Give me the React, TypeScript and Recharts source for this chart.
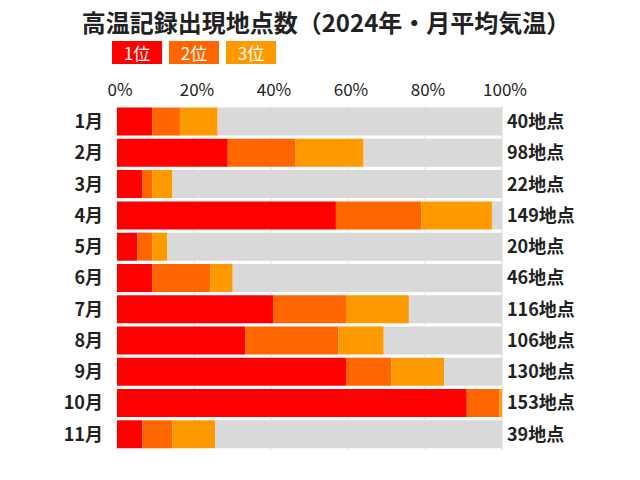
import React from "react";
import {
  BarChart,
  Bar,
  XAxis,
  YAxis,
  CartesianGrid,
} from "recharts";

// 観測地点の総数（10月の153地点でほぼ100%）
const totalStations = 153;

const months = ["1月", "2月", "3月", "4月", "5月", "6月", "7月", "8月", "9月", "10月", "11月"];
const rank1 = [14, 44, 10, 87, 8, 14, 62, 51, 91, 139, 10];
const rank2 = [11, 27, 4, 34, 6, 23, 29, 37, 18, 13, 12];
const rank3 = [15, 27, 8, 28, 6, 9, 25, 18, 21, 1, 17];
const percentTicks = [0, 20, 40, 60, 80, 100];

const legendItems = [
  { label: "1位", color: "#ff0000" },
  { label: "2位", color: "#ff6600" },
  { label: "3位", color: "#ff9900" },
];

const font = '"Noto Sans CJK JP", "Noto Sans", sans-serif';

const chartData = months.map((m, i) => {
  const total = rank1[i] + rank2[i] + rank3[i];
  const pct = (v: number) => (v / totalStations) * 100;
  return {
    month: m,
    r1: pct(rank1[i]),
    r2: pct(rank2[i]),
    r3: pct(rank3[i]),
    rest: Math.max(0, 100 - pct(total)),
    total,
  };
});

const App = () => {
  return (
    <div
      style={{
        position: "absolute",
        left: 0,
        top: 0,
        width: 640,
        height: 480,
        background: "#fff",
        fontFamily: font,
      }}
    >
      <div
        style={{
          position: "absolute",
          left: 0,
          top: 9,
          width: 652,
          textAlign: "center",
          fontSize: 24,
          fontWeight: 700,
          color: "#222",
          lineHeight: "26px",
          whiteSpace: "nowrap",
        }}
      >
        高温記録出現地点数（2024年・月平均気温）
      </div>
      <div style={{ position: "absolute", left: 112, top: 41, display: "flex" }}>
        {legendItems.map((item) => (
          <div
            key={item.label}
            style={{
              width: 50,
              height: 23,
              marginRight: 7,
              background: item.color,
              color: "#fff",
              fontSize: 17,
              lineHeight: "23px",
              textAlign: "center",
            }}
          >
            {item.label}
          </div>
        ))}
      </div>

      <BarChart
        width={640}
        height={480}
        data={chartData}
        layout="vertical"
        barCategoryGap="5%"
        margin={{ top: 76, right: 0, bottom: 30, left: 0 }}
      >
        <CartesianGrid horizontal={false} stroke="#e4e4e4" />
        <XAxis
          type="number"
          orientation="top"
          domain={[0, 100]}
          ticks={percentTicks}
          tickFormatter={(v) => `${v}%`}
          axisLine={false}
          tickLine={false}
          height={30}
          tick={{ fill: "#222", fontSize: 17, fontFamily: font, dx: 3 }}
          tickMargin={4}
        />
        <YAxis
          type="category"
          dataKey="month"
          width={117}
          axisLine={false}
          tickLine={false}
          tickMargin={8}
          tick={{ fill: "#222", fontSize: 18, fontWeight: 700, fontFamily: font }}
        />
        <YAxis
          yAxisId="total"
          type="category"
          dataKey="total"
          orientation="right"
          width={138}
          axisLine={false}
          tickLine={false}
          tickMargin={-1}
          tickFormatter={(v) => `${v}地点`}
          tick={{ fill: "#222", fontSize: 18, fontWeight: 700, fontFamily: font, textAnchor: "start" }}
        />
        <Bar dataKey="r1" stackId="a" fill="#ff0000" isAnimationActive={false} />
        <Bar dataKey="r2" stackId="a" fill="#ff6600" isAnimationActive={false} />
        <Bar dataKey="r3" stackId="a" fill="#ff9900" isAnimationActive={false} />
        <Bar dataKey="rest" stackId="a" fill="#d9d9d9" isAnimationActive={false} />
      </BarChart>
    </div>
  );
};

export default App;
